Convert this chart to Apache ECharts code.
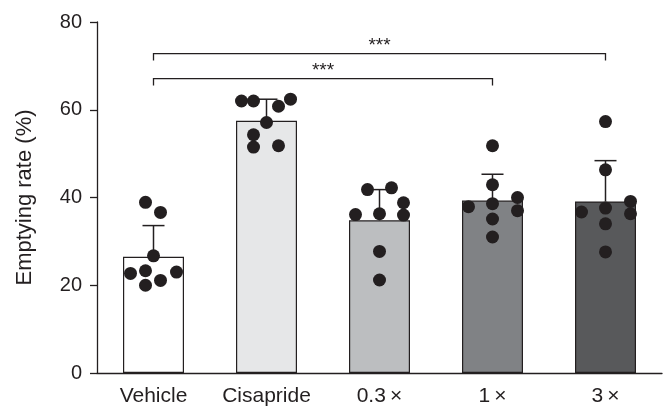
<!DOCTYPE html>
<html>
<head>
<meta charset="utf-8">
<script src="https://cdn.jsdelivr.net/npm/echarts@6/dist/echarts.min.js"></script>
<style>
  html, body { margin: 0; padding: 0; background: #fff; }
  #chart { width: 670px; height: 407px; }
</style>
</head>
<body>
<div id="chart"></div>
<script>
// groups on the x axis
const categories = ['Vehicle', 'Cisapride', '0.3\u2009×', '1\u2009×', '3\u2009×']
// bar height (mean) and upper error (SD)
const means = [26.5, 57.5, 34.8, 39.3, 39.1]
const sds = [7.1, 4.9, 7.0, 6.0, 9.3]
// individual animals per group
const vehiclePts = [38.9, 36.6, 26.7, 22.7, 23.3, 23.0, 20.0, 21.1]
const cisapridePts = [62.0, 62.0, 60.8, 62.4, 57.1, 54.3, 51.5, 51.8]
const dose03Pts = [41.8, 42.2, 38.8, 36.1, 36.3, 36.0, 27.7, 21.2]
const dose1Pts = [51.8, 42.9, 40.0, 37.9, 38.6, 37.0, 35.1, 31.0]
const dose3Pts = [57.3, 46.3, 39.1, 36.7, 37.6, 36.3, 34.0, 27.6]
// horizontal spread of the dots (px), so they don't overlap
const vehicleJitter = [-8, 7, 0, -23, -8, 23, -8, 7]
const cisaprideJitter = [-25, -13, 12, 24, 0, -13, -13, 12]
const dose03Jitter = [-12, 12, 24, -24, 0, 24, 0, 0]
const dose1Jitter = [0, 0, 25, -24, 0, 25, 0, 0]
const dose3Jitter = [0, 0, 25, -24, 0, 25, 0, 0]
// significance brackets: [from group, to group, height, label]
const brackets = [[0, 4, 72.8, '***'], [0, 3, 67.1, '***']]

const barColors = ['#ffffff', '#e6e7e8', '#bcbec0', '#808285', '#58595b']
const ink = '#231f20'
const font = 'Liberation Sans'

const groups = [
  [vehiclePts, vehicleJitter],
  [cisapridePts, cisaprideJitter],
  [dose03Pts, dose03Jitter],
  [dose1Pts, dose1Jitter],
  [dose3Pts, dose3Jitter]
]
const dots = []
groups.forEach(function (g, i) {
  g[0].forEach(function (v, k) {
    dots.push({ value: [i, v], symbolOffset: [g[1][k], 0] })
  })
})

const chart = echarts.init(document.getElementById('chart'), null, { renderer: 'canvas' })
chart.setOption({
  animation: false,
  backgroundColor: '#fff',
  grid: { left: 97, right: 8, top: 22, bottom: 33 },
  xAxis: {
    type: 'category',
    data: categories,
    axisLine: { lineStyle: { color: ink, width: 1.3 } },
    axisTick: { length: 7, lineStyle: { color: ink, width: 1.3 } },
    axisLabel: { color: ink, fontSize: 21, fontFamily: font, margin: 13, interval: 0, hideOverlap: false }
  },
  yAxis: {
    type: 'value',
    min: 0, max: 80, interval: 20,
    name: 'Emptying rate (%)',
    nameLocation: 'middle',
    nameGap: 61,
    nameTextStyle: { color: ink, fontSize: 22, fontFamily: font },
    splitLine: { show: false },
    axisLine: { show: true, lineStyle: { color: ink, width: 1.3 } },
    axisTick: { show: true, length: 7, lineStyle: { color: ink, width: 1.3 } },
    axisLabel: { color: ink, fontSize: 20, fontFamily: font, margin: 15 }
  },
  series: [
    {
      type: 'bar',
      barWidth: 61,
      data: means.map(function (m, i) {
        return { value: m, itemStyle: { color: barColors[i] } }
      }),
      itemStyle: { borderColor: ink, borderWidth: 1.2 },
      z: 1
    },
    {
      type: 'custom',
      data: means.map(function (m, i) { return [i, m, m + sds[i]] }),
      encode: { x: 0, y: [1, 2] },
      renderItem: function (params, api) {
        const lo = api.coord([api.value(0), api.value(1)])
        const hi = api.coord([api.value(0), api.value(2)])
        const half = 11
        return {
          type: 'group',
          children: [
            { type: 'line', shape: { x1: lo[0], y1: lo[1], x2: hi[0], y2: hi[1] }, style: { stroke: ink, lineWidth: 1.5 } },
            { type: 'line', shape: { x1: hi[0] - half, y1: hi[1], x2: hi[0] + half, y2: hi[1] }, style: { stroke: ink, lineWidth: 1.5 } }
          ]
        }
      },
      z: 2
    },
    {
      type: 'scatter',
      data: dots,
      symbolSize: 13,
      itemStyle: { color: ink, opacity: 1 },
      z: 3
    },
    {
      type: 'custom',
      data: brackets.map(function (b) { return [b[0], b[1], b[2]] }),
      encode: { x: [0, 1], y: 2 },
      renderItem: function (params, api) {
        const a = api.coord([api.value(0), api.value(2)])
        const b = api.coord([api.value(1), api.value(2)])
        const drop = 7
        return {
          type: 'group',
          children: [
            {
              type: 'polyline',
              shape: { points: [[a[0], a[1] + drop], [a[0], a[1]], [b[0], b[1]], [b[0], b[1] + drop]] },
              style: { stroke: ink, lineWidth: 1.3, fill: null }
            },
            {
              type: 'text',
              x: (a[0] + b[0]) / 2,
              y: a[1] + 2,
              style: {
                text: brackets[params.dataIndex][3],
                fill: ink, fontSize: 19, fontFamily: font,
                align: 'center', verticalAlign: 'bottom'
              }
            }
          ]
        }
      },
      z: 4
    }
  ]
})
</script>
</body>
</html>
